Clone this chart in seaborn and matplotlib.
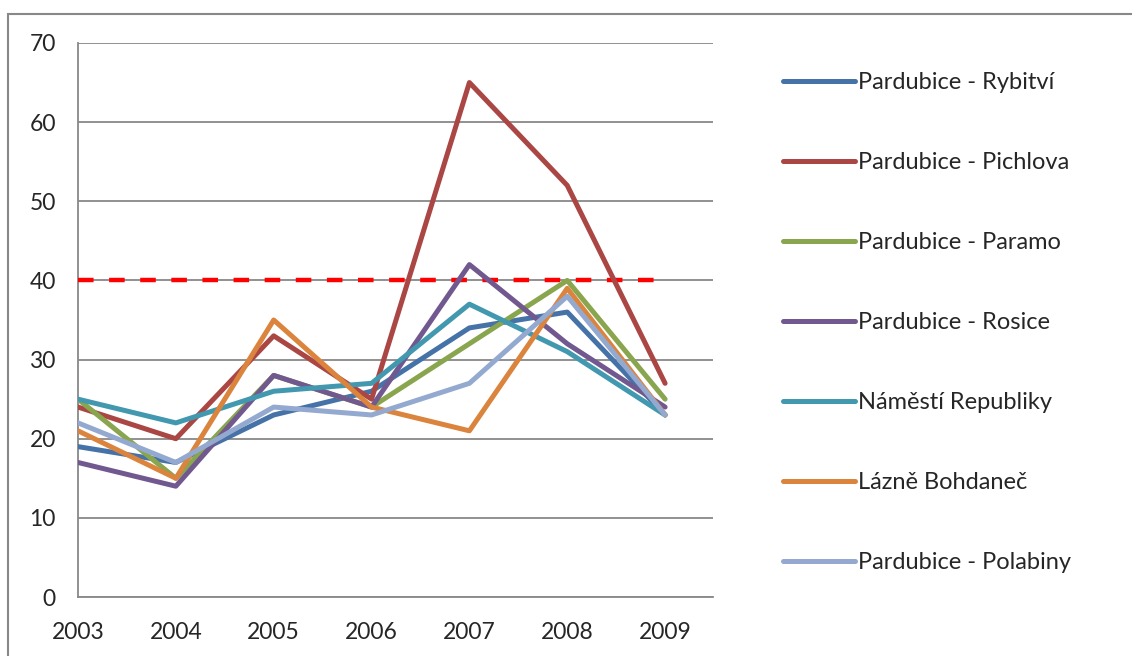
import pandas as pd
import matplotlib.pyplot as plt
import seaborn as sns
from matplotlib.patches import Rectangle

# Data
years = [2003, 2004, 2005, 2006, 2007, 2008, 2009]
stations = ["Pardubice - Rybitví", "Pardubice - Pichlova", "Pardubice - Paramo",
            "Pardubice - Rosice", "Náměstí Republiky", "Lázně Bohdaneč",
            "Pardubice - Polabiny"]
rybitvi = [19, 17, 23, 26, 34, 36, 23]
pichlova = [24, 20, 33, 25, 65, 52, 27]
paramo = [25, 15, 28, 24, 32, 40, 25]
rosice = [17, 14, 28, 24, 42, 32, 24]
namesti = [25, 22, 26, 27, 37, 31, 23]
bohdanec = [21, 15, 35, 24, 21, 39, 23]
polabiny = [22, 17, 24, 23, 27, 38, 23]
limit = [40, 40, 40, 40, 40, 40, 40]
colors = ["#4572A7", "#AA4643", "#89A54E", "#71588F", "#4198AF", "#DB843D", "#93A9CF"]

series = [rybitvi, pichlova, paramo, rosice, namesti, bohdanec, polabiny]
df = pd.DataFrame({
    "rok": years * len(stations),
    "stanice": [s for s in stations for _ in years],
    "hodnota": [v for vals in series for v in vals],
})

sns.set_style("white")
plt.rcParams["font.family"] = ["Lato", "DejaVu Sans"]

fig = plt.figure(figsize=(11.32, 6.56), dpi=100)
ax = fig.add_axes([0.0689, 0.0899, 0.561, 0.8446])

# limit value line
ax.plot(years, limit, color="#FF0000", lw=3.2, ls=(0, (3.5, 3.5)), zorder=3)
sns.lineplot(data=df, x="rok", y="hodnota", hue="stanice", hue_order=stations,
             palette=colors, lw=3.6, ax=ax, legend=True, zorder=4)

ax.set_xlim(2003, 2009.49)
ax.set_ylim(0, 70)
ax.set_yticks(range(0, 71, 10))
ax.set_xticks(years)
ax.set_xlabel("")
ax.set_ylabel("")
ax.yaxis.grid(True, color="#888888", lw=1.3)
ax.set_axisbelow(True)
for side in ["top", "right"]:
    ax.spines[side].set_visible(False)
for side in ["left", "bottom"]:
    ax.spines[side].set_color("#888888")
    ax.spines[side].set_linewidth(1.3)
ax.tick_params(axis="both", direction="out", length=6, width=1.3, color="#888888",
               labelsize=16.5)
ax.tick_params(axis="x", pad=12)
ax.tick_params(axis="y", pad=10)

handles, labels = ax.get_legend_handles_labels()
for h in handles:
    h.set_linewidth(3.6)
ax.legend(handles, labels, loc="center left", bbox_to_anchor=(1.110, 0.4955),
          frameon=False, fontsize=17, handlelength=3.05, handletextpad=0.13,
          labelspacing=2.5, borderaxespad=0, borderpad=0)

# outer chart frame (cut off at right and bottom)
fig.patches.append(Rectangle((8 / 1132, -0.1), 1.2, 1 - 14 / 656 + 0.1,
                             transform=fig.transFigure, fill=False,
                             edgecolor="#888888", lw=1.5))

fig.savefig("out.png", dpi=100)
